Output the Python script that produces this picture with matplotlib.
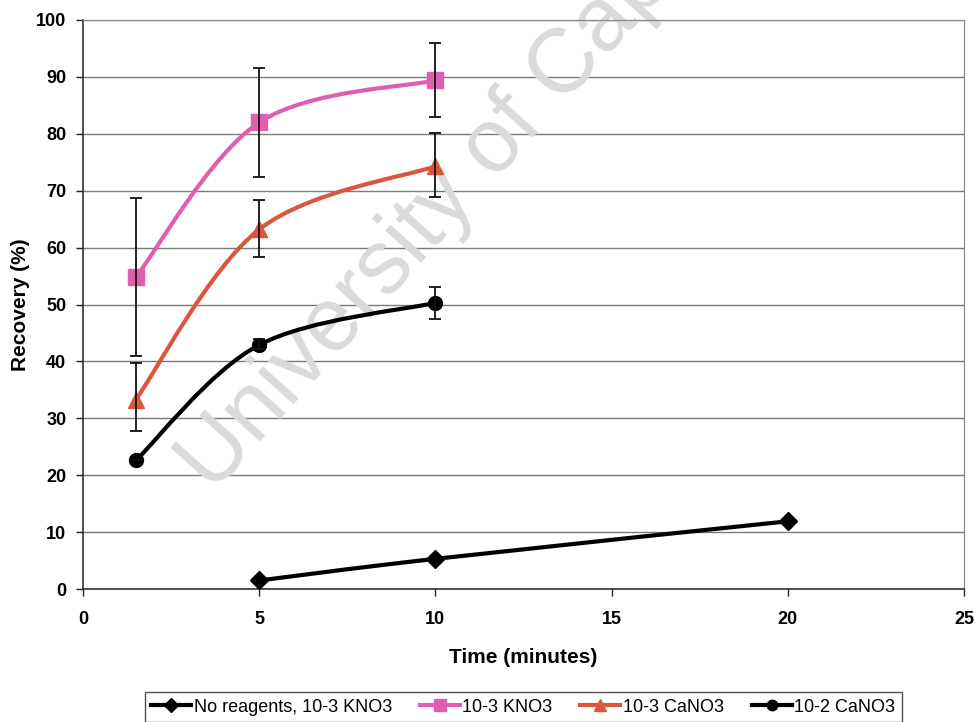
import matplotlib

matplotlib.use("Agg")
import matplotlib.pyplot as plt
import numpy as np
from matplotlib.lines import Line2D
from matplotlib.path import Path
from matplotlib.patches import PathPatch

# 数据
x_none = [5, 10, 20]
y_none = [1.5, 5.3, 11.9]

x_kno3 = [1.5, 5, 10]
y_kno3 = [54.8, 82.0, 89.4]
lo_kno3 = [40.9, 72.4, 83.0]
hi_kno3 = [68.8, 91.5, 95.9]

x_cano3_3 = [1.5, 5, 10]
y_cano3_3 = [33.3, 63.2, 74.3]
lo_cano3_3 = [27.7, 58.4, 68.9]
hi_cano3_3 = [39.7, 68.4, 80.1]

x_cano3_2 = [1.5, 5, 10]
y_cano3_2 = [22.6, 42.9, 50.3]
lo_cano3_2 = [22.6, 42.2, 47.5]
hi_cano3_2 = [22.6, 44.0, 53.1]

labels = ["No reagents, 10-3 KNO3", "10-3 KNO3", "10-3 CaNO3", "10-2 CaNO3"]
colors = ["#000000", "#df5fae", "#d9583c", "#000000"]
markers = ["D", "s", "^", "o"]
msizes = [9, 11, 11, 10]

plt.rcParams["font.family"] = ["Liberation Sans", "DejaVu Sans"]


def smooth_path(xs, ys):
    # Excel 风格平滑线：Catmull-Rom 转三次 Bezier
    pts = np.column_stack([xs, ys]).astype(float)
    ext = np.vstack([pts[0], pts, pts[-1]])
    verts = [pts[0]]
    codes = [Path.MOVETO]
    for i in range(len(pts) - 1):
        p0, p1, p2, p3 = ext[i], ext[i + 1], ext[i + 2], ext[i + 3]
        verts += [p1 + (p2 - p0) / 6, p2 - (p3 - p1) / 6, p2]
        codes += [Path.CURVE4] * 3
    return Path(verts, codes)


fig = plt.figure(figsize=(9.78, 7.22), dpi=100)
ax = fig.add_axes([0.0849, 0.1842, 0.9008, 0.7881])

series = [
    (x_none, y_none, None, None),
    (x_kno3, y_kno3, lo_kno3, hi_kno3),
    (x_cano3_3, y_cano3_3, lo_cano3_3, hi_cano3_3),
    (x_cano3_2, y_cano3_2, lo_cano3_2, hi_cano3_2),
]

handles = []
for (xs, ys, lo, hi), c, m, ms, lab in zip(series, colors, markers, msizes, labels):
    ax.add_patch(PathPatch(smooth_path(xs, ys), fill=False, edgecolor=c, lw=3, zorder=3,
                           capstyle="round", joinstyle="round"))
    ax.plot(xs, ys, linestyle="none", marker=m, markersize=ms, color=c, zorder=4)
    if lo is not None:
        yerr = [np.array(ys) - np.array(lo), np.array(hi) - np.array(ys)]
        ax.errorbar(xs, ys, yerr=yerr, fmt="none", ecolor="#111111", elinewidth=1.3,
                    capsize=4, capthick=1.3, zorder=5)
    handles.append(Line2D([], [], color=c, lw=3, marker=m, markersize=ms * 0.75, label=lab))

ax.set_xlim(0, 25)
ax.set_ylim(0, 100)
ax.set_xticks(np.arange(0, 26, 5))
ax.set_yticks(np.arange(0, 101, 10))
ax.yaxis.grid(True, color="#7a7a7a", lw=1)
ax.set_axisbelow(True)
for s in ["top", "right"]:
    ax.spines[s].set_color("#8a8a8a")
    ax.spines[s].set_linewidth(0.9)
for s in ["left", "bottom"]:
    ax.spines[s].set_color("#222222")
    ax.spines[s].set_linewidth(1.1)
ax.tick_params(direction="out", length=5, width=1, color="#222222", labelsize=13, pad=7)
for t in ax.get_xticklabels() + ax.get_yticklabels():
    t.set_fontweight("bold")
ax.tick_params(axis="x", pad=11)

ax.set_xlabel("Time (minutes)", fontsize=15, fontweight="bold")
ax.set_ylabel("Recovery (%)", fontsize=15, fontweight="bold")
ax.xaxis.set_label_coords(0.4994, -0.103)
ax.yaxis.set_label_coords(-0.060, 0.499)

# 水印
ax.text(0.218, 0.316, "University of Cape Town", transform=fig.transFigure, rotation=48,
        rotation_mode="anchor", ha="left", va="baseline", fontsize=65, color="#dadada",
        zorder=1.5, clip_on=False)

leg = fig.legend(handles=handles, loc="upper center", bbox_to_anchor=(0.535, 0.041), ncol=4,
                 frameon=True, fancybox=False, edgecolor="#222222",
                 handlelength=2.2, handletextpad=0.15, columnspacing=1.55,
                 borderpad=0.35, borderaxespad=0,
                 prop={"family": ["Liberation Sans"], "size": 13})
leg.get_frame().set_linewidth(1)

fig.savefig("out.png", dpi=100)
